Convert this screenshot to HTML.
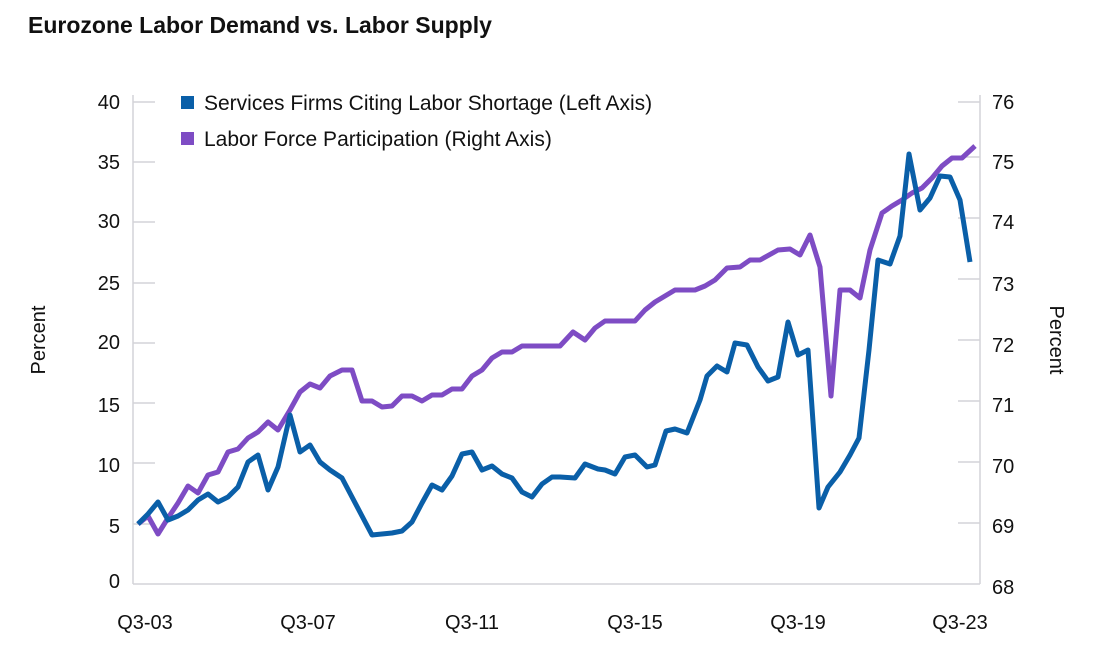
<!DOCTYPE html>
<html><head><meta charset="utf-8"><style>
body{margin:0;background:#fff;}
svg text{font-family:"Liberation Sans",sans-serif;fill:#111;}
</style></head><body>
<svg width="1100" height="657" viewBox="0 0 1100 657" xmlns="http://www.w3.org/2000/svg">
<text x="28" y="33" font-size="23" font-weight="bold">Eurozone Labor Demand vs. Labor Supply</text>
<g stroke="#d4d4d8" stroke-width="1.5">
<line x1="133" y1="95" x2="133" y2="584"/>
<line x1="980" y1="95" x2="980" y2="584"/>
<line x1="133" y1="584" x2="980" y2="584"/>
<line x1="133" y1="102" x2="155" y2="102"/><line x1="133" y1="162" x2="155" y2="162"/><line x1="133" y1="222" x2="155" y2="222"/><line x1="133" y1="283" x2="155" y2="283"/><line x1="133" y1="343" x2="155" y2="343"/><line x1="133" y1="403" x2="155" y2="403"/><line x1="133" y1="463" x2="155" y2="463"/><line x1="133" y1="524" x2="155" y2="524"/>
<line x1="958" y1="102" x2="980" y2="102"/><line x1="958" y1="157" x2="980" y2="157"/><line x1="958" y1="218" x2="980" y2="218"/><line x1="958" y1="279" x2="980" y2="279"/><line x1="958" y1="340" x2="980" y2="340"/><line x1="958" y1="401" x2="980" y2="401"/><line x1="958" y1="462" x2="980" y2="462"/><line x1="958" y1="523" x2="980" y2="523"/>
</g>
<g font-size="20" text-anchor="end">
<text x="120" y="109">40</text><text x="120" y="169">35</text><text x="120" y="228">30</text><text x="120" y="290">25</text><text x="120" y="349">20</text><text x="120" y="412">15</text><text x="120" y="472">10</text><text x="120" y="533">5</text><text x="120" y="588">0</text>
</g>
<g font-size="20" text-anchor="start">
<text x="992" y="109">76</text><text x="992" y="169">75</text><text x="992" y="229">74</text><text x="992" y="291">73</text><text x="992" y="352">72</text><text x="992" y="412">71</text><text x="992" y="473">70</text><text x="992" y="533">69</text><text x="992" y="594">68</text>
</g>
<g font-size="20" text-anchor="middle">
<text x="145" y="629">Q3-03</text><text x="308" y="629">Q3-07</text><text x="472" y="629">Q3-11</text><text x="635" y="629">Q3-15</text><text x="798" y="629">Q3-19</text><text x="960" y="629">Q3-23</text>
</g>
<text font-size="20" text-anchor="middle" transform="translate(45,340) rotate(-90)">Percent</text>
<text font-size="20" text-anchor="middle" transform="translate(1050,340) rotate(90)">Percent</text>
<rect x="181" y="96" width="13" height="13" fill="#0a5fa8"/>
<text x="204" y="110" font-size="21">Services Firms Citing Labor Shortage (Left Axis)</text>
<rect x="181" y="132" width="13" height="13" fill="#7e4cc4"/>
<text x="204" y="146" font-size="21">Labor Force Participation (Right Axis)</text>
<polyline fill="none" stroke="#7e4cc4" stroke-width="5" stroke-linejoin="round" points="138,524 148,516 158,534 168,518 178,503 188,486 198,493 208,475 218,472 228,452 238,449 248,438 258,432 268,422 278,430 290,410 300,392 310,384 320,388 330,376 342,370 352,370 362,401 372,401 382,407 392,406 402,396 412,396 422,401 432,395 442,395 452,389 462,389 472,376 482,370 492,358 502,352 512,352 522,346 532,346 542,346 552,346 560,346 573,332 585,340 595,328 605,321 635,321 645,310 655,302 675,290 695,290 705,286 715,280 727,268 740,267 750,260 760,260 778,250 790,249 800,255 810,235 820,267 831,396 840,290 850,290 860,298 870,250 882,213 892,206 902,200 912,193 922,188 932,178 942,166 952,158 962,158 975,146"/>
<polyline fill="none" stroke="#0a5fa8" stroke-width="5" stroke-linejoin="round" points="138,524 148,514 158,502 168,520 178,516 188,510 198,500 208,494 218,502 228,497 238,487 248,462 258,455 268,490 278,467 290,415 300,452 310,445 320,462 330,470 342,478 352,497 362,516 372,535 382,534 392,533 402,531 412,522 422,503 432,485 442,490 452,476 462,454 472,452 482,470 492,466 502,474 512,478 522,492 532,497 542,484 552,477 560,477 575,478 585,464 598,469 605,470 615,474 625,457 635,455 647,467 655,465 666,431 675,429 687,433 700,400 707,376 717,366 727,372 735,343 747,345 758,367 768,381 778,377 788,322 798,355 808,350 819,508 828,487 840,472 850,455 859,438 869,350 878,260 890,264 900,236 909,154 920,210 930,198 940,176 950,177 960,200 970,262"/>
</svg>
</body></html>
